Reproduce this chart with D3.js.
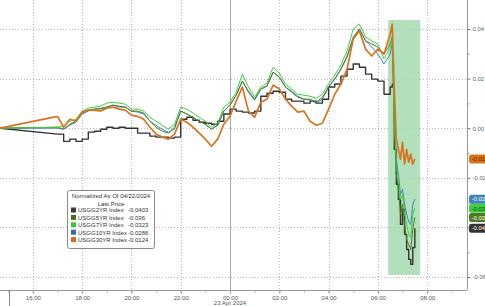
<!DOCTYPE html>
<html>
<head>
<meta charset="utf-8">
<script src="https://cdn.jsdelivr.net/npm/d3@7"></script>
<style>
  body { margin: 0; background: #fff; }
  svg { display: block; font-family: "Liberation Sans", Arial, sans-serif; }
</style>
</head>
<body>
<svg id="chart" width="485" height="306"></svg>
<script>
// timestamps (22 Apr afternoon -> 23 Apr morning)
var times = ["14:40","17:00","17:15","17:30","17:45","18:00","18:15","18:30","18:45","19:00","19:15","19:30","19:45",
  "20:00","20:15","20:30","20:45","21:00","21:15","21:30","21:45","22:00","22:15","22:30","22:45","23:00","23:15","23:30","23:45",
  "00:00","00:15","00:30","00:45","01:00","01:15","01:30","01:45","02:00","02:15","02:30","02:45","03:00","03:15","03:30","03:45",
  "04:00","04:15","04:30","04:45","05:00","05:15","05:30","05:45","06:00","06:15","06:30","06:35","06:40","06:45","06:50","06:55",
  "07:00","07:05","07:10","07:15","07:20","07:25","07:30"];

var usgg2yr = [0,-0.0024,-0.0053,-0.0044,-0.0053,-0.0044,-0.0016,-0.0012,-0.0004,0.0004,0,0.0004,0,
  0,-0.0020,-0.0020,-0.0032,-0.0036,-0.0036,-0.0040,-0.0036,0.0036,0.0044,0.0032,0.0024,0.0020,0.0016,0.0028,0.0057,
  0.0077,0.0069,0.0065,0.0061,0.0069,0.0129,0.0141,0.0149,0.0145,0.0117,0.0109,0.0109,0.0101,0.0109,0.0101,0.0117,
  0.0166,0.0178,0.0210,0.0238,0.0259,0.0246,0.0218,0.0198,0.0190,0.0137,0.0166,0.0178,-0.0085,-0.0226,-0.0287,-0.0388,
  -0.0327,-0.0428,-0.0489,-0.0529,-0.0549,-0.0481,-0.0403];

var usgg5yr = [0,0.0004,-0.0004,0.0016,0.0028,0.0061,0.0073,0.0077,0.0077,0.0085,0.0093,0.0089,0.0085,
  0.0069,0.0069,0.0061,0.0028,0.0004,-0.0012,-0.0020,0.0004,0.0069,0.0057,0.0044,0.0028,0.0016,-0.0004,0.0012,0.0069,
  0.0093,0.0133,0.0190,0.0149,0.0117,0.0158,0.0170,0.0226,0.0206,0.0166,0.0145,0.0125,0.0117,0.0117,0.0105,0.0125,
  0.0166,0.0198,0.0238,0.0287,0.0360,0.0400,0.0352,0.0340,0.0327,0.0299,0.0340,0.0368,-0.0004,-0.0186,-0.0246,-0.0347,
  -0.0307,-0.0388,-0.0448,-0.0469,-0.0489,-0.0408,-0.036];

var usgg7yr = [0,0.0004,0.0008,0.0028,0.0036,0.0069,0.0081,0.0085,0.0089,0.0101,0.0105,0.0101,0.0097,
  0.0077,0.0077,0.0069,0.0044,0.0028,0.0012,-0.0004,0.0016,0.0085,0.0077,0.0061,0.0044,0.0028,0.0004,0.0020,0.0085,
  0.0105,0.0145,0.0218,0.0166,0.0125,0.0166,0.0182,0.0246,0.0222,0.0178,0.0158,0.0137,0.0133,0.0129,0.0121,0.0137,
  0.0178,0.0214,0.0255,0.0311,0.0400,0.0420,0.0368,0.0352,0.0340,0.0279,0.0327,0.0360,0.0036,-0.0145,-0.0206,-0.0287,
  -0.0267,-0.0347,-0.0388,-0.0428,-0.0440,-0.0347,-0.0323];

var usgg10yr = [0,0,-0.0004,0.0012,0.0024,0.0057,0.0069,0.0077,0.0081,0.0085,0.0093,0.0085,0.0085,
  0.0069,0.0065,0.0057,0.0028,0.0012,-0.0004,-0.0016,-0.0004,0.0069,0.0057,0.0044,0.0028,0.0016,-0.0004,0.0012,0.0069,
  0.0093,0.0133,0.0190,0.0145,0.0113,0.0158,0.0170,0.0226,0.0206,0.0166,0.0149,0.0129,0.0117,0.0113,0.0101,0.0117,
  0.0166,0.0198,0.0238,0.0291,0.0368,0.0400,0.0352,0.0327,0.0299,0.0259,0.0299,0.0340,0.0077,-0.0125,-0.0186,-0.0267,
  -0.0246,-0.0307,-0.0347,-0.0376,-0.0388,-0.0307,-0.0286];

var usgg30yr = [0,0.0048,0.0004,0.0036,0.0028,0.0065,0.0073,0.0073,0.0069,0.0081,0.0085,0.0077,0.0073,
  0.0053,0.0048,0.0036,0.0004,-0.0024,-0.0036,-0.0044,-0.0024,0.0036,0.0024,0.0004,-0.0020,-0.0044,-0.0073,-0.0044,0.0016,
  0.0048,0.0109,0.0166,0.0069,0.0044,0.0105,0.0117,0.0174,0.0158,0.0117,0.0089,0.0065,0.0069,0.0028,0.0012,0.0020,
  0.0077,0.0137,0.0178,0.0238,0.0360,0.0392,0.0319,0.0291,0.0319,0.0299,0.0380,0.0420,0.0158,-0.0044,-0.0085,-0.0125,
  -0.0057,-0.0145,-0.0085,-0.0137,-0.0105,-0.0145,-0.0124];

var seriesNames = ["USGG2YR Index","USGG5YR Index","USGG7YR Index","USGG10YR Index","USGG30YR Index"];
var yTicks = [-0.06,-0.04,-0.02,0.00,0.02,0.04];

var colors = ["#333333","#4e7a22","#3fcf3f","#3f86b4","#d9731c"];
var swatch = ["#3a3a3a","#4f6b1e","#3dc43d","#3b6aa0","#d46a1a"];

var parseT = d3.timeParse("%Y-%m-%d %H:%M");
function toDate(t) {
  var h = +t.slice(0, 2);
  return parseT((h >= 12 ? "2024-04-22 " : "2024-04-23 ") + t);
}
var dates = times.map(toDate);

var allSeries = [usgg2yr, usgg5yr, usgg7yr, usgg10yr, usgg30yr].map(function(vals, i) {
  return { name: seriesNames[i], color: colors[i], values: vals.map(function(v, j) { return { t: dates[j], v: v }; }) };
});

var plotRight = 467, axisY = 290;

var svg = d3.select("#chart");

var x = d3.scaleTime()
  .domain([parseT("2024-04-22 14:40"), parseT("2024-04-23 09:37")])
  .range([0, plotRight]);
var y = d3.scaleLinear()
  .domain([-0.06, 0.04])
  .range([277, 29]);

var fmt = function(d) { return d3.format(".2f")(d).replace("\u2212", "-"); };

// grid
var hourTicks = x.ticks(d3.timeHour.every(2)).filter(function(d) { return x(d) > 12 && x(d) < plotRight - 5; });
svg.append("g").selectAll("line")
  .data(yTicks)
  .enter().append("line")
  .attr("x1", 0).attr("x2", plotRight)
  .attr("y1", function(d) { return Math.round(y(d)) + 0.5; })
  .attr("y2", function(d) { return Math.round(y(d)) + 0.5; })
  .attr("stroke", "#b8b8b8").attr("stroke-dasharray", "1,2");
svg.append("g").selectAll("line")
  .data(hourTicks)
  .enter().append("line")
  .attr("x1", function(d) { return Math.round(x(d)) + 0.5; })
  .attr("x2", function(d) { return Math.round(x(d)) + 0.5; })
  .attr("y1", 0).attr("y2", axisY)
  .attr("stroke", function(d) { return d.getHours() === 0 ? "#a8a8a8" : "#b8b8b8"; })
  .attr("stroke-dasharray", function(d) { return d.getHours() === 0 ? null : "1,2"; });

// highlight box
svg.append("rect")
  .attr("x", x(parseT("2024-04-23 06:25"))).attr("y", 20)
  .attr("width", x(parseT("2024-04-23 07:43")) - x(parseT("2024-04-23 06:25")))
  .attr("height", 255)
  .attr("fill", "#a6dbb0").attr("opacity", 0.85);

// lines
svg.append("defs").append("clipPath").attr("id", "clip")
  .append("rect").attr("x", 0).attr("y", 0).attr("width", plotRight).attr("height", axisY);

var lineLin = d3.line()
  .x(function(d) { return x(d.t); })
  .y(function(d) { return y(d.v); });
var lineStep = d3.line()
  .curve(d3.curveStepAfter)
  .x(function(d) { return x(d.t); })
  .y(function(d) { return y(d.v); });

var drawOrder = [0, 3, 1, 2, 4];
var lineG = svg.append("g").attr("clip-path", "url(#clip)")
  .selectAll("g")
  .data(drawOrder.map(function(i) { return allSeries[i]; }))
  .enter().append("g")
  .attr("fill", "none")
  .attr("stroke", function(d) { return d.color; })
  .attr("stroke-width", function(d) { return d.name === "USGG30YR Index" ? 1.7 : (d.name === "USGG2YR Index" ? 1.4 : 1); })
  .attr("stroke-linejoin", "round");
// gap before the session is bridged with a straight segment; the 2yr trades in steps
lineG.append("path").attr("d", function(d) { return lineLin(d.values.slice(0, 2)); });
lineG.append("path").attr("d", function(d) {
  return d.name === "USGG2YR Index" ? lineStep(d.values.slice(1)) : lineLin(d.values.slice(1));
});

// right axis
var yAxis = d3.axisRight(y).tickValues(yTicks).tickSize(3).tickPadding(2).tickFormat(fmt);
var gy = svg.append("g").attr("transform", "translate(" + (plotRight + 0.5) + ",0)").call(yAxis);
gy.select(".domain").attr("d", "M0,0V" + axisY).attr("stroke", "#999");
gy.selectAll(".tick line").attr("stroke", "#777");
gy.selectAll(".tick text").attr("fill", "#666").style("font-size", "6px");
svg.append("g").attr("transform", "translate(" + (plotRight + 0.5) + ",0)")
  .call(d3.axisRight(y).tickValues([-0.05,-0.03,-0.01,0.01,0.03]).tickSize(2).tickFormat(""))
  .call(function(g) { g.select(".domain").remove(); g.selectAll("line").attr("stroke", "#999"); });

// bottom axis
var xAxis = d3.axisBottom(x).ticks(d3.timeHour.every(2)).tickSize(3).tickPadding(2).tickFormat(d3.timeFormat("%H:%M"));
var gx = svg.append("g").attr("transform", "translate(0," + (axisY + 0.5) + ")").call(xAxis);
gx.select(".domain").attr("d", "M0,0H" + plotRight).attr("stroke", "#999");
gx.selectAll(".tick line").attr("stroke", "#888");
gx.selectAll(".tick text").attr("fill", "#555").style("font-size", "6px");
svg.append("g").attr("transform", "translate(0," + (axisY + 0.5) + ")")
  .call(d3.axisBottom(x).ticks(d3.timeHour.every(1)).tickSize(2).tickFormat(""))
  .call(function(g) { g.select(".domain").remove(); g.selectAll("line").attr("stroke", "#aaa"); });
svg.append("line").attr("x1", 9.5).attr("x2", 9.5).attr("y1", axisY).attr("y2", 306).attr("stroke", "#888");
svg.append("text").attr("x", x(parseT("2024-04-23 00:00"))).attr("y", 305)
  .attr("text-anchor", "middle").attr("fill", "#555").style("font-size", "6px").text("23 Apr 2024");

// last value tags
var tags = svg.append("g").selectAll("g")
  .data(allSeries)
  .enter().append("g")
  .attr("transform", function(d) { return "translate(" + (plotRight + 2) + "," + y(d.values[d.values.length - 1].v) + ")"; });
tags.append("rect").attr("x", 0).attr("y", -4.5).attr("width", 24).attr("height", 9).attr("rx", 2.5)
  .attr("fill", function(d) { return d.color; });
tags.append("text").attr("x", 2.5).attr("y", 2.2)
  .attr("fill", function(d, i) { return i === 2 ? "#0b4d0b" : (i === 4 ? "#5a2200" : "#fff"); })
  .style("font-size", "6px")
  .text(function(d) { return String(d.values[d.values.length - 1].v); });

// legend
var lg = svg.append("g").attr("transform", "translate(67,190)");
lg.append("rect").attr("x", 0.5).attr("y", 0.5).attr("width", 87).attr("height", 58).attr("rx", 2)
  .attr("fill", "#fff").attr("stroke", "#8a8a8a");
lg.append("text").attr("x", 44).attr("y", 8).attr("text-anchor", "middle").attr("fill", "#333")
  .style("font-size", "6px").text("Normalized As Of 04/22/2024");
lg.append("text").attr("x", 44).attr("y", 15.5).attr("text-anchor", "middle").attr("fill", "#333")
  .style("font-size", "6px").text("Last Price");
var rows = lg.selectAll(".row").data(allSeries).enter().append("g")
  .attr("class", "row")
  .attr("transform", function(d, i) { return "translate(0," + (22 + i * 7.4) + ")"; });
rows.append("rect").attr("x", 4).attr("y", -4.5).attr("width", 5).attr("height", 5)
  .attr("fill", function(d, i) { return swatch[i]; });
rows.append("text").attr("x", 11).attr("y", 0.3).attr("fill", "#333").style("font-size", "6px")
  .text(function(d) { return d.name; });
rows.append("text").attr("x", 61).attr("y", 0.3).attr("fill", "#333").style("font-size", "6px")
  .text(function(d) { return String(d.values[d.values.length - 1].v); });
</script>
</body>
</html>
